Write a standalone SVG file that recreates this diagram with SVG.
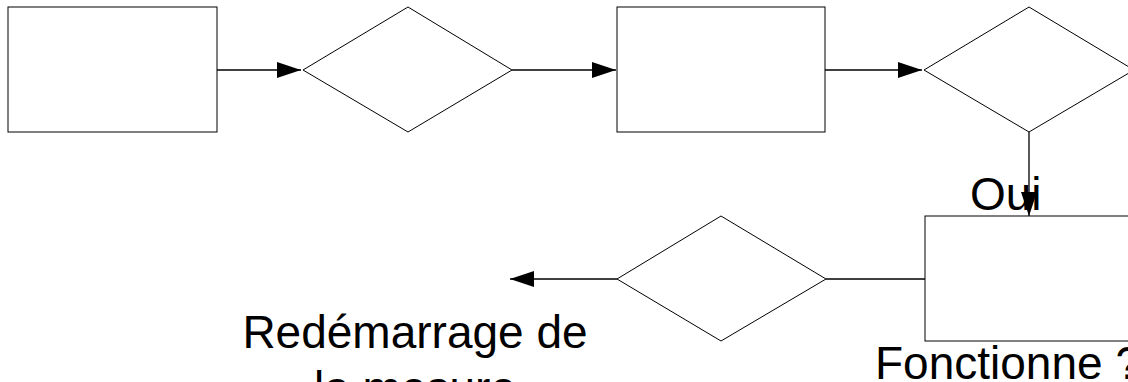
<svg xmlns="http://www.w3.org/2000/svg" width="1128" height="382" viewBox="0 0 1128 382">
<style>
.box{fill:#fff;stroke:#000;stroke-width:1}
.dia{fill:#fff;stroke:#000;stroke-width:1}
.con{fill:none;stroke:#000;stroke-width:1.3}
.lbl{font-family:"Liberation Sans",Arial,sans-serif;font-size:46px;fill:#000}
</style>
<defs>
<marker id="ah" viewBox="0 0 24 16" refX="24" refY="8" markerWidth="24" markerHeight="16" markerUnits="userSpaceOnUse" orient="auto">
<path d="M0,0 L24,8 L0,16 Z" fill="#000"/>
</marker>
</defs>
<rect width="1128" height="382" fill="#fff"/>
<g id="connectors">
<line class="con" x1="217" y1="70" x2="301" y2="70" marker-end="url(#ah)"/>
<line class="con" x1="512" y1="70" x2="616" y2="70" marker-end="url(#ah)"/>
<line class="con" x1="825" y1="70" x2="922" y2="70" marker-end="url(#ah)"/>
<line class="con" x1="1029" y1="132" x2="1029" y2="216" marker-end="url(#ah)"/>
<line class="con" x1="925" y1="279" x2="826" y2="279"/>
<line class="con" x1="617" y1="279" x2="510" y2="279" marker-end="url(#ah)"/>
</g>
<g id="n1"><rect class="box" x="8" y="7" width="209" height="125"/></g>
<g id="n2"><polygon class="dia" points="303,70 408,7 512,70 408,132"/></g>
<g id="n3"><rect class="box" x="617" y="7" width="208" height="125"/></g>
<g id="n4"><polygon class="dia" points="924,70 1029,7 1134,70 1029,132"/></g>
<g id="n5"><rect class="box" x="925" y="216" width="209" height="125"/></g>
<g id="n6"><polygon class="dia" points="617,279 721,216 826,279 721,341"/></g>
<g id="labels">
<text class="lbl" x="970" y="210">Oui</text>
<text class="lbl" x="875" y="379">Fonctionne ?</text>
<text class="lbl" x="415" y="348" text-anchor="middle">Redémarrage de</text>
<text class="lbl" x="415" y="404" text-anchor="middle">la mesure</text>
</g>
</svg>
